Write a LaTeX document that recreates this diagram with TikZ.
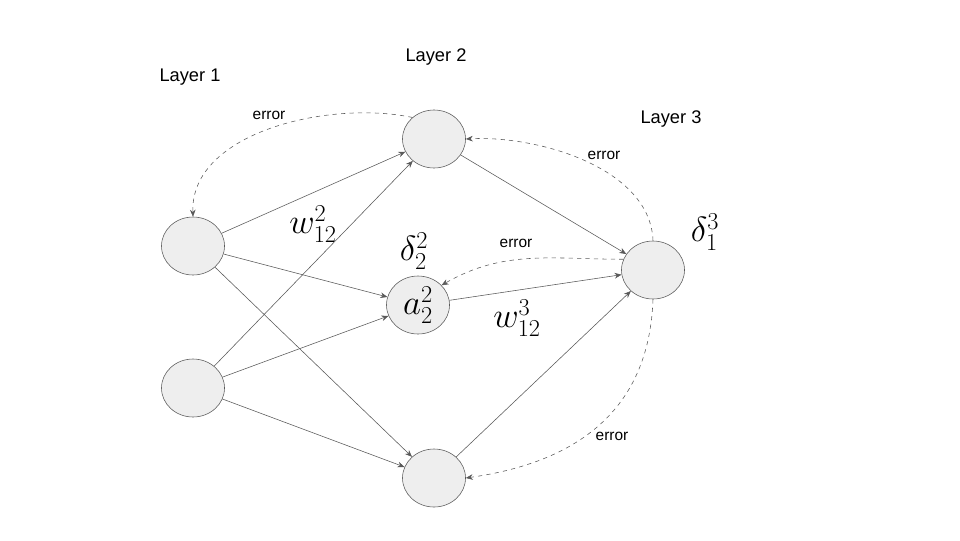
\documentclass[tikz,border=0pt]{standalone}
\usepackage{amsmath}
\usepackage{fontspec}
\setmainfont{Liberation Sans}
\usetikzlibrary{shapes.geometric, arrows.meta}

\definecolor{nodefill}{HTML}{EEEEEE}
\definecolor{linegray}{HTML}{595959}

\begin{document}
\begin{tikzpicture}[x=0.025cm, y=-0.025cm,
        neuron/.style={ellipse, draw=linegray, fill=nodefill, minimum width=1.575cm, minimum height=1.45cm, inner sep=0pt},
        link/.style={draw=linegray, -{Stealth[length=5pt, width=4pt]}},
        errlink/.style={link, dashed},
        layertext/.style={font=\fontsize{13}{15}\selectfont},
        errtext/.style={font=\fontsize{11}{13}\selectfont},
        mathtext/.style={font=\fontsize{23}{27}\selectfont}]
        \useasboundingbox (0, 0) rectangle (960, 540);

        \node[neuron] (in1) at (193, 246) {};
        \node[neuron] (in2) at (193, 388) {};
        \node[neuron] (hid1) at (434, 139) {};
        \node[neuron, mathtext] (hid2) at (418, 305) {$a_2^2$};
        \node[neuron] (hid3) at (434, 478) {};
        \node[neuron] (out1) at (653, 270) {};

        \node[layertext] (l1) at (190, 77) {Layer 1};
        \node[layertext] (l2) at (436, 57) {Layer 2};
        \node[layertext] (l3) at (671, 119) {Layer 3};

        \node[errtext] (e1) at (269, 115) {error};
        \node[errtext] (e2) at (604, 155) {error};
        \node[errtext] (e3) at (516, 243) {error};
        \node[errtext] (e4) at (612, 436) {error};

        \node[mathtext] (w2) at (313, 224) {$w_{12}^2$};
        \node[mathtext] (d2) at (414, 251) {$\delta_2^2$};
        \node[mathtext] (w3) at (517, 318) {$w_{12}^3$};
        \node[mathtext] (d3) at (705, 232) {$\delta_1^3$};

        \draw[link] (in1) to (hid1);
        \draw[link] (in1) to (hid2);
        \draw[link] (in1) to (hid3);
        \draw[link] (in2) to (hid1);
        \draw[link] (in2) to (hid2);
        \draw[link] (in2) to (hid3);
        \draw[link] (hid1) to (out1);
        \draw[link] (hid2) to (out1);
        \draw[link] (hid3) to (out1);

        \draw[errlink] (hid1.135) to[out=168, in=92, looseness=0.9] (in1.north);
        \draw[errlink] (out1.north) to[out=92, in=3, looseness=0.87] (hid1.east);
        \draw[errlink] (out1.160) to[out=180, in=30] (hid2.40);
        \draw[errlink] (out1.south) to[out=-92, in=8, looseness=1.1] (hid3.east);
\end{tikzpicture}
\end{document}
